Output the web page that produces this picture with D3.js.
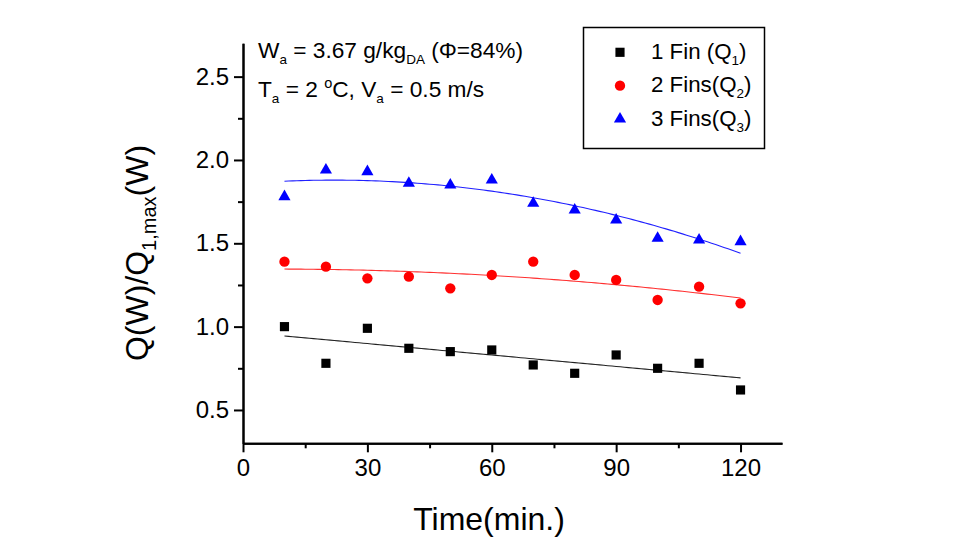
<!DOCTYPE html>
<html>
<head>
<meta charset="utf-8">
<script src="https://cdn.jsdelivr.net/npm/d3@7"></script>
<style>
  html, body { margin: 0; padding: 0; background: #fff; }
  svg { display: block; font-family: "Liberation Sans", Arial, sans-serif; }
</style>
</head>
<body>
<svg id="chart" width="956" height="546"></svg>
<script>
// ---- data ----
const times = [10, 20, 30, 40, 50, 60, 70, 80, 90, 100, 110, 120];
const fin1 = [1.00, 0.78, 0.99, 0.87, 0.85, 0.86, 0.77, 0.72, 0.83, 0.75, 0.78, 0.62];
const fin2 = [1.39, 1.36, 1.29, 1.30, 1.23, 1.31, 1.39, 1.31, 1.28, 1.16, 1.24, 1.14];
const fin3 = [1.78, 1.94, 1.93, 1.86, 1.85, 1.88, 1.74, 1.70, 1.64, 1.53, 1.52, 1.51];
const xTicks = [0, 30, 60, 90, 120];
const xMinor = [15, 45, 75, 105];
const yTicks = [0.5, 1.0, 1.5, 2.0, 2.5];
const yMinor = [0.75, 1.25, 1.75, 2.25];
const seriesNames = ["1 Fin (Q", "2 Fins(Q", "3 Fins(Q"];
const seriesSubs = ["1", "2", "3"];
const fitDegree = [1, 2, 2];

const svg = d3.select("#chart");
const x = d3.scaleLinear().domain([0, 130]).range([243, 782]);
const y = d3.scaleLinear().domain([0.3, 2.7]).range([443.3, 43.3]);

// least-squares polynomial fit
function polyfit(xs, ys, deg) {
  const n = deg + 1;
  const A = Array.from({length: n}, () => new Array(n + 1).fill(0));
  for (let i = 0; i < xs.length; i++) {
    for (let r = 0; r < n; r++) {
      for (let c = 0; c < n; c++) A[r][c] += Math.pow(xs[i], r + c);
      A[r][n] += ys[i] * Math.pow(xs[i], r);
    }
  }
  for (let p = 0; p < n; p++) {
    let m = p;
    for (let r = p + 1; r < n; r++) if (Math.abs(A[r][p]) > Math.abs(A[m][p])) m = r;
    [A[p], A[m]] = [A[m], A[p]];
    for (let r = 0; r < n; r++) {
      if (r === p) continue;
      const f = A[r][p] / A[p][p];
      for (let c = p; c <= n; c++) A[r][c] -= f * A[p][c];
    }
  }
  return A.map((row, i) => row[n] / row[i]);
}

const series = [
  {vals: fin1, color: "#000000", line: "#222222", sym: d3.symbolSquare, size: 84},
  {vals: fin2, color: "#ff0000", line: "#ff3030", sym: d3.symbolCircle, size: 84},
  {vals: fin3, color: "#0000ff", line: "#2020ff", sym: d3.symbolTriangle, size: 64}
];

// axes
const axisStyle = g => {
  g.selectAll("path.domain").attr("stroke", "#000").attr("stroke-width", 2);
  g.selectAll(".tick line").attr("stroke", "#000").attr("stroke-width", 2);
  g.selectAll(".tick text").attr("fill", "#000").style("font-size", "24px")
    .style("font-family", "'Liberation Sans', Arial, sans-serif");
};

svg.append("g").attr("transform", `translate(0,${y(0.3)})`)
  .call(d3.axisBottom(x).tickValues(xMinor).tickSize(5).tickSizeOuter(0).tickFormat(""))
  .call(axisStyle);
svg.append("g").attr("transform", `translate(0,${y(0.3)})`)
  .call(d3.axisBottom(x).tickValues(xTicks).tickSize(9).tickSizeOuter(0).tickPadding(7).tickFormat(d3.format("d")))
  .call(axisStyle);

svg.append("g").attr("transform", `translate(${x(0)},0)`)
  .call(d3.axisLeft(y).tickValues(yMinor).tickSize(5).tickSizeOuter(0).tickFormat(""))
  .call(axisStyle);
svg.append("g").attr("transform", `translate(${x(0)},0)`)
  .call(d3.axisLeft(y).tickValues(yTicks).tickSize(9).tickSizeOuter(0).tickPadding(5).tickFormat(d3.format(".1f")))
  .call(axisStyle);

// fit lines
series.forEach((s, i) => {
  const coef = polyfit(times, s.vals, fitDegree[i]);
  const f = t => coef.reduce((acc, c, k) => acc + c * Math.pow(t, k), 0);
  const pts = d3.range(times[0], times[times.length - 1] + 0.01, 1).map(t => [t, f(t)]);
  svg.append("path")
    .attr("d", d3.line().x(d => x(d[0])).y(d => y(d[1]))(pts))
    .attr("fill", "none").attr("stroke", s.line).attr("stroke-width", 1.1);
});

// markers
series.forEach(s => {
  svg.append("g").selectAll("path").data(times.map((t, j) => [t, s.vals[j]])).join("path")
    .attr("transform", d => `translate(${x(d[0])},${y(d[1])})`)
    .attr("d", d3.symbol().type(s.sym).size(s.size))
    .attr("fill", s.color);
});

// axis titles
const yt = svg.append("text").attr("transform", "translate(148,253) rotate(-90)")
  .attr("text-anchor", "middle").style("font-size", "32px").attr("fill", "#000");
yt.append("tspan").text("Q(W)/Q");
yt.append("tspan").attr("dy", 8).style("font-size", "20px").text("1,max");
yt.append("tspan").attr("dy", -8).text("(W)");

svg.append("text").attr("x", 489).attr("y", 530).attr("text-anchor", "middle")
  .style("font-size", "32px").attr("fill", "#000").text("Time(min.)");

// annotation
const a1 = svg.append("text").attr("x", 258).attr("y", 58).style("font-size", "22.7px").attr("fill", "#000");
a1.append("tspan").text("W");
a1.append("tspan").attr("dy", 6).style("font-size", "13.5px").text("a");
a1.append("tspan").attr("dy", -6).text(" = 3.67 g/kg");
a1.append("tspan").attr("dy", 6).style("font-size", "13.5px").text("DA");
a1.append("tspan").attr("dy", -6).text(" (Φ=84%)");

const a2 = svg.append("text").attr("x", 258).attr("y", 97).style("font-size", "22.7px").attr("fill", "#000");
a2.append("tspan").text("T");
a2.append("tspan").attr("dy", 6).style("font-size", "13.5px").text("a");
a2.append("tspan").attr("dy", -6).text(" = 2 ");
a2.append("tspan").attr("dy", -9).style("font-size", "14.5px").text("o");
a2.append("tspan").attr("dy", 9).text("C, V");
a2.append("tspan").attr("dy", 6).style("font-size", "13.5px").text("a");
a2.append("tspan").attr("dy", -6).text(" = 0.5 m/s");

// legend
svg.append("rect").attr("x", 583.5).attr("y", 27.5).attr("width", 181).attr("height", 121)
  .attr("fill", "#fff").attr("stroke", "#000").attr("stroke-width", 1.5);
series.forEach((s, i) => {
  const cy = 52.3 + i * 33.4;
  svg.append("path").attr("transform", `translate(620,${cy})`)
    .attr("d", d3.symbol().type(s.sym).size(s.size)).attr("fill", s.color);
  const t = svg.append("text").attr("x", 651).attr("y", cy + 6.5)
    .style("font-size", "22.3px").attr("fill", "#000");
  t.append("tspan").text(seriesNames[i]);
  t.append("tspan").attr("dy", 6).style("font-size", "13.5px").text(seriesSubs[i]);
  t.append("tspan").attr("dy", -6).text(")");
});
</script>
</body>
</html>
